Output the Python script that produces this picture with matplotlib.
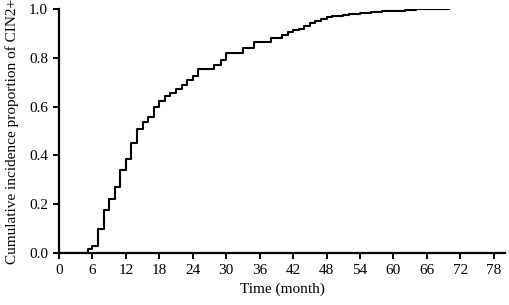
import matplotlib
matplotlib.use("Agg")
import matplotlib.pyplot as plt

plt.rcParams['font.family'] = ['Liberation Serif', 'DejaVu Serif']

times = [0, 5.2, 6, 7, 8, 9, 10, 11, 12, 13, 14, 15, 16, 17, 18, 19, 20, 21, 22, 23, 24, 25,
         27.8, 29, 30, 33, 35, 38, 40, 41, 42, 43, 44, 45, 46, 47, 48, 49, 50, 51, 52, 53, 54,
         56, 58, 60, 62, 64, 66, 68, 70]
values = [0, 0.015, 0.027, 0.10, 0.177, 0.22, 0.27, 0.34, 0.386, 0.45, 0.51, 0.535, 0.557,
          0.60, 0.624, 0.642, 0.656, 0.672, 0.69, 0.71, 0.724, 0.754, 0.77, 0.79, 0.82, 0.84,
          0.865, 0.88, 0.894, 0.905, 0.912, 0.92, 0.929, 0.942, 0.952, 0.96, 0.966, 0.97,
          0.973, 0.976, 0.979, 0.981, 0.983, 0.986, 0.990, 0.993, 0.996, 0.998, 0.999, 1.0, 1.0]
xticks = list(range(0, 79, 6))
yticks = [0.0, 0.2, 0.4, 0.6, 0.8, 1.0]

fig = plt.figure(figsize=(5.10, 3.05), dpi=100)
ax = fig.add_axes([59/510, 1-253/305, (505-59)/510, (253-9)/305])
ax.step(times, values, where='post', color='black', lw=1.5)
ax.set_xlim(0, 80)
ax.set_ylim(0, 1.0)
ax.set_xticks(xticks)
ax.set_yticks(yticks)
ax.set_yticklabels([f"{v:.1f}" for v in yticks])
for s in ['top', 'right']:
    ax.spines[s].set_visible(False)
for s in ['left', 'bottom']:
    ax.spines[s].set_linewidth(1.6)
ax.tick_params(direction='out', length=4.5, width=1.4, labelsize=11, pad=3.5)
ax.set_xlabel('Time (month)', fontsize=11, labelpad=4)
ax.set_ylabel('Cumulative incidence proportion of CIN2+', fontsize=11, labelpad=7)
fig.savefig('out.png', dpi=100)
